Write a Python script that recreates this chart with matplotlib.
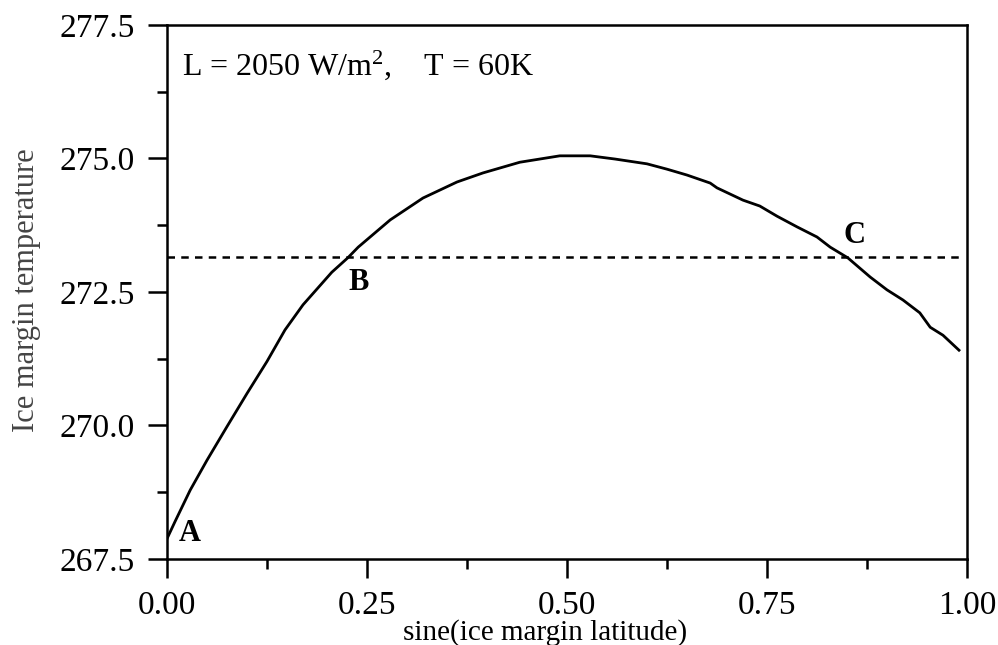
import matplotlib

matplotlib.use("Agg")
import matplotlib.pyplot as plt
from matplotlib.ticker import MultipleLocator, FormatStrFormatter

plt.rcParams["font.family"] = ["Liberation Serif", "DejaVu Serif"]
plt.rcParams["mathtext.fontset"] = "custom"
plt.rcParams["mathtext.rm"] = "Liberation Serif"
plt.rcParams["mathtext.default"] = "regular"

# curve
sin_lat = [0.0, 0.01, 0.029, 0.05, 0.075, 0.10, 0.125, 0.1475, 0.17, 0.206,
           0.226, 0.239, 0.279, 0.32, 0.3625, 0.395, 0.441, 0.491, 0.529,
           0.56, 0.60, 0.625, 0.65, 0.679, 0.6875, 0.72, 0.741, 0.7625,
           0.7875, 0.8125, 0.829, 0.851, 0.879, 0.90, 0.92, 0.941, 0.954,
           0.97, 0.99]
ice_temp = [267.88, 268.2, 268.79, 269.35, 269.98, 270.6, 271.2, 271.79,
            272.26, 272.87, 273.14, 273.34, 273.85, 274.26, 274.56, 274.73,
            274.93, 275.05, 275.05, 274.99, 274.90, 274.80, 274.69, 274.54,
            274.45, 274.22, 274.11, 273.92, 273.72, 273.53, 273.34, 273.14,
            272.78, 272.54, 272.35, 272.11, 271.84, 271.69, 271.41]

freeze_x = [0.0, 0.99]
freeze_t = [273.15, 273.15]

point_labels = ["A", "B", "C"]
point_x = [0.029, 0.24, 0.859]
point_t = [267.97, 272.67, 273.55]

fig = plt.figure(figsize=(9.98, 6.45), dpi=100)
ax = fig.add_axes([167 / 998, 1 - 559 / 645, 800 / 998, 534 / 645])

ax.plot(sin_lat, ice_temp, color="black", lw=2.0)
ax.plot(freeze_x, freeze_t, color="black", lw=1.8, dashes=(3, 2.5))

for lab, px, pt in zip(point_labels, point_x, point_t):
    ax.text(px, pt, lab, fontsize=22, fontweight="bold", ha="center", va="center")

ax.text(0.019, 0.925, r"L = 2050 W/m$^{2}$,    T = 60K", transform=ax.transAxes,
        fontsize=23, ha="left", va="center")

ax.set_xlim(0, 1)
ax.set_ylim(267.5, 277.5)
ax.xaxis.set_major_locator(MultipleLocator(0.25))
ax.xaxis.set_minor_locator(MultipleLocator(0.125))
ax.yaxis.set_major_locator(MultipleLocator(2.5))
ax.yaxis.set_minor_locator(MultipleLocator(1.25))
ax.xaxis.set_major_formatter(FormatStrFormatter("%.2f"))
ax.yaxis.set_major_formatter(FormatStrFormatter("%.1f"))

ax.tick_params(axis="both", which="both", direction="out", width=1.8,
               labelsize=24, top=False, right=False)
ax.tick_params(axis="y", which="major", length=14, pad=9)
ax.tick_params(axis="y", which="minor", length=7)
ax.tick_params(axis="x", which="major", length=14, pad=9)
ax.tick_params(axis="x", which="minor", length=7)
for spine in ax.spines.values():
    spine.set_linewidth(1.8)

fig.text(545 / 998, 1 - 619 / 645, "sine(ice margin latitude)", fontsize=21,
         ha="center", va="top")
fig.text(27 / 998, 1 - 290 / 645, "Ice margin temperature", fontsize=22,
         color="#444444", rotation=90, ha="center", va="center")

fig.savefig("out.png", dpi=100)
plt.close(fig)
